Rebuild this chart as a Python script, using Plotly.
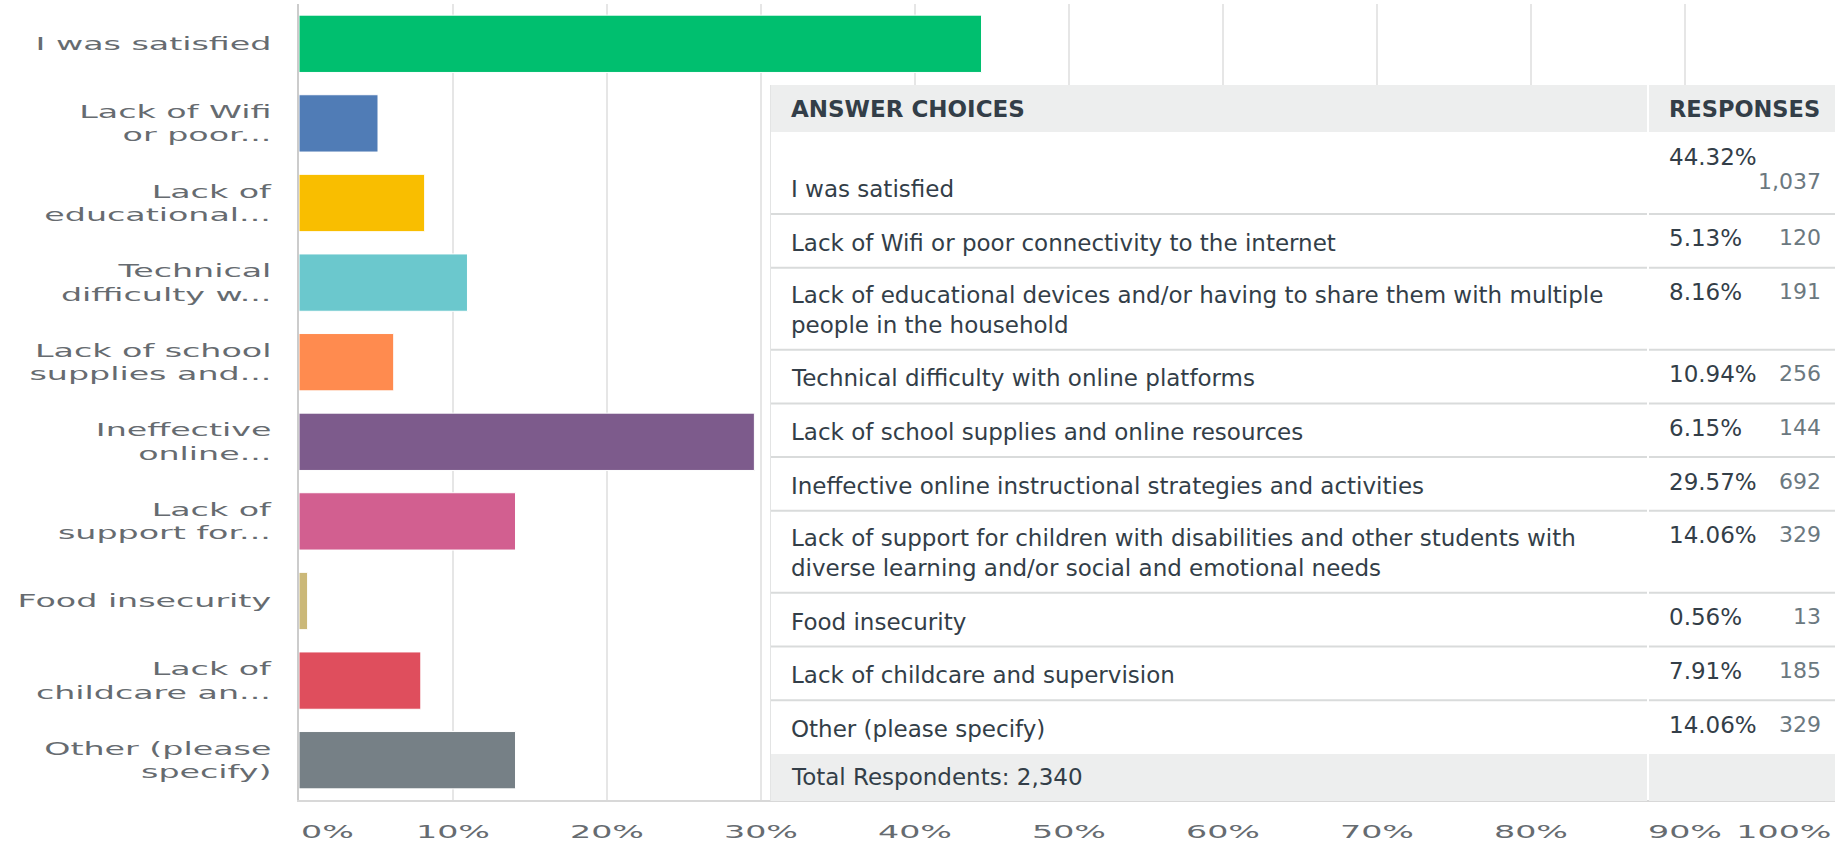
import textwrap
import plotly.graph_objects as go

# ---------------- data ----------------
CHOICES = [
    "I was satisfied",
    "Lack of Wifi or poor connectivity to the internet",
    "Lack of educational devices and/or having to share them with multiple people in the household",
    "Technical difficulty with online platforms",
    "Lack of school supplies and online resources",
    "Ineffective online instructional strategies and activities",
    "Lack of support for children with disabilities and other students with diverse learning and/or social and emotional needs",
    "Food insecurity",
    "Lack of childcare and supervision",
    "Other (please specify)",
]
SHORT_LABELS = [
    "I was satisfied",
    "Lack of Wifi<br>or poor...",
    "Lack of<br>educational...",
    "Technical<br>difficulty w...",
    "Lack of school<br>supplies and...",
    "Ineffective<br>online...",
    "Lack of<br>support for...",
    "Food insecurity",
    "Lack of<br>childcare an...",
    "Other (please<br>specify)",
]
PERCENTS = [44.32, 5.13, 8.16, 10.94, 6.15, 29.57, 14.06, 0.56, 7.91, 14.06]
COUNTS = [1037, 120, 191, 256, 144, 692, 329, 13, 185, 329]
TOTAL_RESPONDENTS = 2340
X_TICKS = [0, 10, 20, 30, 40, 50, 60, 70, 80, 90, 100]

# ---------------- style / layout ----------------
BAR_COLORS = ["#00bf6f", "#507cb6", "#f9be00", "#6bc8cd", "#ff8b4f",
              "#7d5b8c", "#d25f90", "#cbb878", "#df4e5d", "#768086"]
W, H = 1835, 849
PLOT_L, PLOT_T, PLOT_B = 299, 4, 800
XMAX = 99.74
FONT = "DejaVu Sans"
AXIS_TEXT = "#666b70"
TXT = "#333e48"
SUBTXT = "#6b787f"
HEAD_BG = "#edeeee"
ROW_LINE = "#d9dbdb"
TBL_L, COL_DIV, TBL_R = 771, 1648, W
HEAD_T, HEAD_B = 85, 132
ROW_BASE_H, ROW_LINE_H = 53.7, 28.3
FOOT_H = 47
TFS = 23
STRETCH = 1.85


def xp(px):
    return (px - PLOT_L) / (W - PLOT_L)


def yp(py):
    return 1 - (py - PLOT_T) / (PLOT_B - PLOT_T)


fig = go.Figure()
fig.add_trace(go.Bar(
    y=CHOICES, x=PERCENTS, orientation="h",
    marker=dict(color=BAR_COLORS, line=dict(color="white", width=1)),
    hoverinfo="skip",
))

annotations = []
# x tick labels (drawn as annotations so edge labels can be justified)
for v in X_TICKS:
    if v == 0:
        annotations.append(dict(x=v, xref="x", xanchor="left", align="left"))
    elif v > XMAX:
        annotations.append(dict(x=1, xref="paper", xanchor="right", align="right", xshift=-2))
    else:
        annotations.append(dict(x=v, xref="x", xanchor="center", align="center"))
    annotations[-1].update(text=f"{v}%", y=0, yref="paper", yanchor="middle", yshift=-31,
                           showarrow=False, font=dict(family=FONT, size=18, color=AXIS_TEXT))
N_TICK_ANN = len(annotations)

shapes = []
# table background
shapes.append(dict(type="rect", xref="paper", yref="paper", x0=xp(TBL_L), x1=1,
                   y0=yp(PLOT_B), y1=yp(HEAD_T), fillcolor="white", line_width=0, layer="above"))
# header cells
shapes.append(dict(type="rect", xref="paper", yref="paper", x0=xp(TBL_L), x1=xp(COL_DIV - 1),
                   y0=yp(HEAD_B), y1=yp(HEAD_T), fillcolor=HEAD_BG, line_width=0, layer="above"))
shapes.append(dict(type="rect", xref="paper", yref="paper", x0=xp(COL_DIV + 1), x1=1,
                   y0=yp(HEAD_B), y1=yp(HEAD_T), fillcolor=HEAD_BG, line_width=0, layer="above"))
annotations.append(dict(text="<b>ANSWER CHOICES</b>", x=xp(789), xref="paper", xanchor="left", align="left",
                        y=yp((HEAD_T + HEAD_B) / 2), yref="paper", yanchor="middle", showarrow=False,
                        font=dict(family=FONT, size=TFS, color=TXT)))
annotations.append(dict(text="<b>RESPONSES</b>", x=xp(1667), xref="paper", xanchor="left", align="left",
                        y=yp((HEAD_T + HEAD_B) / 2), yref="paper", yanchor="middle", showarrow=False,
                        font=dict(family=FONT, size=TFS - 0.5, color=TXT)))

row_top = HEAD_B
for i, (choice, pct, cnt) in enumerate(zip(CHOICES, PERCENTS, COUNTS)):
    lines = textwrap.wrap(choice, 70)
    pct_s = f"{pct:.2f}%"
    cnt_s = f"{cnt:,}"
    wrap_resp = len(pct_s) + len(cnt_s) > 10
    n_lines = max(len(lines), 2 if wrap_resp else 1)
    row_bot = row_top + ROW_BASE_H + ROW_LINE_H * (n_lines - 1)
    annotations.append(dict(text="<br>".join(lines), x=xp(789), xref="paper", xanchor="left", align="left",
                            y=yp(row_bot), yref="paper", yanchor="bottom", yshift=10, showarrow=False,
                            font=dict(family=FONT, size=TFS, color=TXT)))
    annotations.append(dict(text=pct_s, x=xp(1667), xref="paper", xanchor="left", align="left",
                            y=yp(row_top), yref="paper", yanchor="top", yshift=-9.5, showarrow=False,
                            font=dict(family=FONT, size=TFS, color=TXT)))
    annotations.append(dict(text=cnt_s, x=xp(1823), xref="paper", xanchor="right", align="right",
                            y=yp(row_top), yref="paper", yanchor="top",
                            yshift=-9.5 - (25 if wrap_resp else 0), showarrow=False,
                            font=dict(family=FONT, size=TFS - 1, color=SUBTXT)))
    if i < len(CHOICES) - 1:
        shapes.append(dict(type="line", xref="paper", yref="paper", x0=xp(TBL_L), x1=xp(COL_DIV - 1),
                           y0=yp(row_bot), y1=yp(row_bot), line=dict(color=ROW_LINE, width=2), layer="above"))
        shapes.append(dict(type="line", xref="paper", yref="paper", x0=xp(COL_DIV + 1), x1=1,
                           y0=yp(row_bot), y1=yp(row_bot), line=dict(color=ROW_LINE, width=2), layer="above"))
    row_top = row_bot

# footer
foot_t = row_top
foot_b = foot_t + FOOT_H
shapes.append(dict(type="rect", xref="paper", yref="paper", x0=xp(TBL_L), x1=xp(COL_DIV - 1),
                   y0=yp(foot_b), y1=yp(foot_t), fillcolor=HEAD_BG, line_width=0, layer="above"))
shapes.append(dict(type="rect", xref="paper", yref="paper", x0=xp(COL_DIV + 1), x1=1,
                   y0=yp(foot_b), y1=yp(foot_t), fillcolor=HEAD_BG, line_width=0, layer="above"))
annotations.append(dict(text=f"Total Respondents: {TOTAL_RESPONDENTS:,}", x=xp(789), xref="paper",
                        xanchor="left", align="left", y=yp((foot_t + foot_b) / 2), yref="paper",
                        yanchor="middle", showarrow=False, font=dict(family=FONT, size=TFS, color=TXT)))
# table left border
shapes.append(dict(type="line", xref="paper", yref="paper", x0=xp(TBL_L - 0.5), x1=xp(TBL_L - 0.5),
                   y0=yp(foot_b), y1=yp(HEAD_T), line=dict(color="#e3e4e4", width=1), layer="above"))

fig.update_layout(
    width=W, height=H,
    margin=dict(l=PLOT_L, r=0, t=PLOT_T, b=H - PLOT_B, autoexpand=False),
    paper_bgcolor="white", plot_bgcolor="white",
    showlegend=False, bargap=0.28,
    font=dict(family=FONT, color=AXIS_TEXT),
    shapes=shapes, annotations=annotations,
    xaxis=dict(range=[0, XMAX], tickvals=X_TICKS, showticklabels=False, ticks="",
               showgrid=True, gridcolor="#e6e6e6", gridwidth=1.5, zeroline=False,
               showline=True, linecolor="#d8d8d8", linewidth=1.5, fixedrange=True),
    yaxis=dict(categoryorder="array", categoryarray=CHOICES, autorange="reversed",
               tickvals=CHOICES, ticktext=SHORT_LABELS, ticks="", showgrid=False,
               showline=True, linecolor="#cccccc", linewidth=2, automargin=False,
               ticklabelstandoff=22, tickfont=dict(family=FONT, size=18, color=AXIS_TEXT),
               fixedrange=True),
)

POST = """
document.body.style.margin = '0';
document.body.style.overflow = 'hidden';
var gd = document.getElementById('{plot_id}');
var S = __S__;
function stretch(t){
  var bb = t.getBBox();
  var a = window.getComputedStyle(t).textAnchor || t.getAttribute('text-anchor') || 'start';
  var cx = (a === 'end') ? bb.x + bb.width : ((a === 'middle') ? bb.x + bb.width / 2 : bb.x);
  var tr = t.getAttribute('transform') || '';
  t.setAttribute('transform', tr + ' translate(' + cx + ',0) scale(' + S + ',1) translate(' + (-cx) + ',0)');
}
gd.querySelectorAll('.yaxislayer-above .ytick text').forEach(stretch);
for (var i = 0; i < __N__; i++) {
  gd.querySelectorAll('g.annotation[data-index="' + i + '"] text.annotation-text').forEach(stretch);
}
""".replace("__S__", str(STRETCH)).replace("__N__", str(N_TICK_ANN))

fig.write_html("out.html", post_script=POST, config={"displayModeBar": False, "responsive": False})
